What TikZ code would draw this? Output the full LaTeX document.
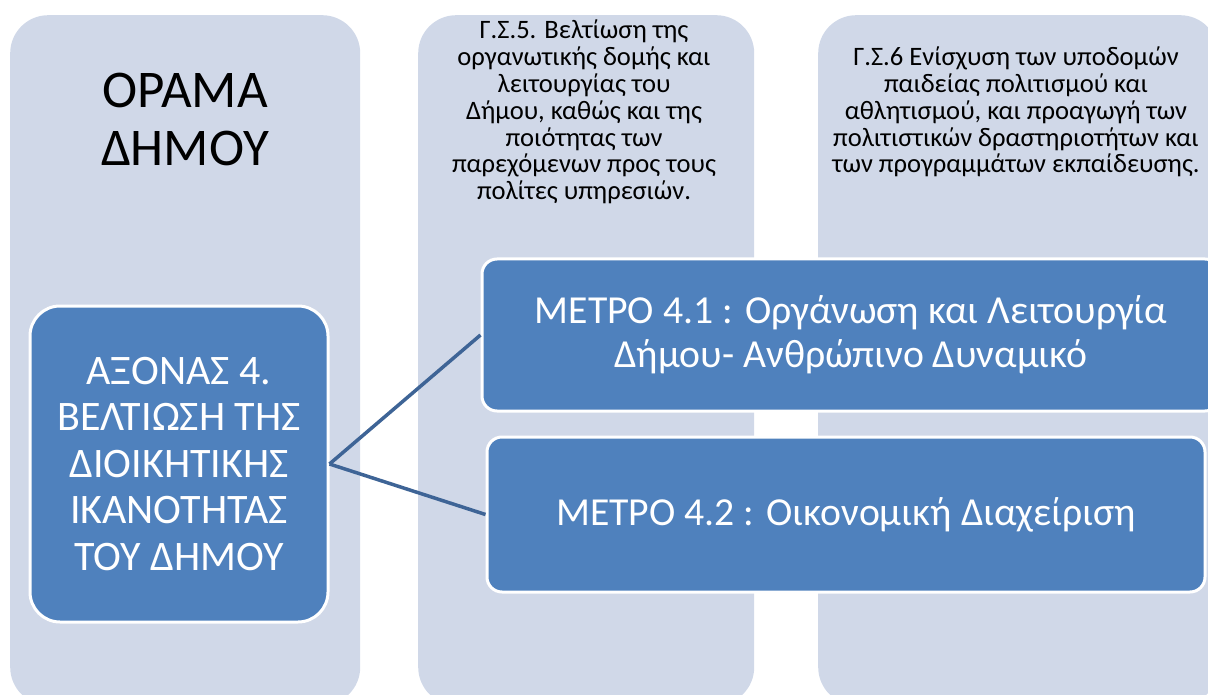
\documentclass[tikz,border=0pt]{standalone}
\usepackage{fontspec}
\setmainfont{Carlito}
\definecolor{colfill}{RGB}{208,216,232}
\definecolor{boxblue}{RGB}{79,129,189}
\definecolor{linkblue}{RGB}{62,100,150}
\tikzset{
	column/.style={fill=colfill,rounded corners=38pt,inner sep=0pt,anchor=north west},
	bluebox/.style={fill=boxblue,draw=white,line width=3pt,text=white,align=center,inner sep=0pt},
	link/.style={draw=linkblue,line width=3.5pt},
	small/.style={align=center,font=\fontsize{26.6}{26.8}\selectfont}
}
\begin{document}
\begin{tikzpicture}[x=1pt,y=-1pt]
	\clip (0,0) rectangle (1208,695);
	% columns
	\node[column,minimum width=350pt,minimum height=690pt] (vision) at (10,15) {};
	\node[column,minimum width=336pt,minimum height=690pt] (gs5) at (418,15) {};
	\node[column,minimum width=400pt,minimum height=690pt] (gs6) at (818,15) {};
	\node[align=center,font=\fontsize{53}{58}\selectfont] (visiontxt) at (185,119) {ΟΡΑΜΑ\\ΔΗΜΟΥ};
	\node[small] (gs5txt) at (584,112) {Γ.Σ.5. Βελτίωση της\\οργανωτικής δομής και\\λειτουργίας του\\Δήμου, καθώς και της\\ποιότητας των\\παρεχόμενων προς τους\\πολίτες υπηρεσιών.};
	\node[small] (gs6txt) at (1016,112) {Γ.Σ.6 Ενίσχυση των υποδομών\\παιδείας πολιτισμού και\\αθλητισμού, και προαγωγή των\\πολιτιστικών δραστηριοτήτων και\\των προγραμμάτων εκπαίδευσης.};
	% boxes
	\node[bluebox,minimum width=298pt,minimum height=316pt,rounded corners=30pt,font=\fontsize{42}{46.5}\selectfont] (axis) at (179,464) {ΑΞΟΝΑΣ 4.\\ΒΕΛΤΙΩΣΗ ΤΗΣ\\ΔΙΟΙΚΗΤΙΚΗΣ\\ΙΚΑΝΟΤΗΤΑΣ\\ΤΟΥ ΔΗΜΟΥ};
	\node[bluebox,minimum width=738pt,minimum height=152pt,rounded corners=15pt,font=\fontsize{39.7}{44}\selectfont] (m41) at (851,335) {ΜΕΤΡΟ 4.1 : Οργάνωση και Λειτουργία\\Δήμου- Ανθρώπινο Δυναμικό};
	\node[bluebox,minimum width=718pt,minimum height=155pt,rounded corners=15pt,font=\fontsize{39.7}{44}\selectfont] (m42) at (846,514.5) {ΜΕΤΡΟ 4.2 : Οικονομική Διαχείριση};
	\draw[link] (axis.east) -- (m41.west);
	\draw[link] (axis.east) -- (m42.west);
\end{tikzpicture}
\end{document}
